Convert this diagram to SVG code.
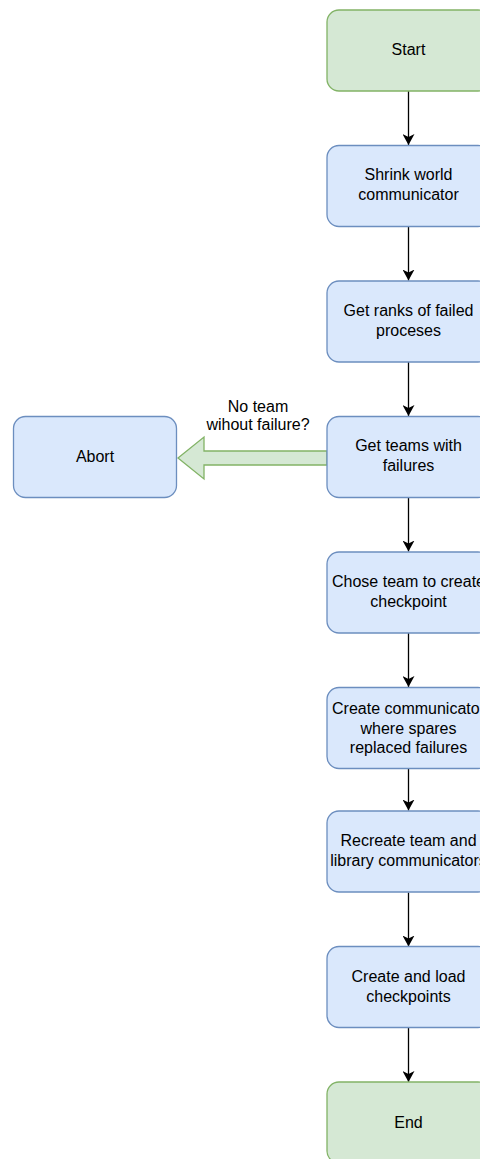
<svg xmlns="http://www.w3.org/2000/svg" width="480" height="1159" viewBox="0 0 480 1159">
<style>
.n rect{stroke-width:1.3}
.g rect{fill:#d5e8d4;stroke:#82b366}
.b rect{fill:#dae8fc;stroke:#6c8ebf}
text{font-family:"Liberation Sans",Arial,sans-serif;font-size:16px;fill:#000;text-anchor:middle}
.e{stroke:#000;stroke-width:1.3;fill:none}
</style>
<defs>
<marker id="ah" markerWidth="12" markerHeight="12" viewBox="0 0 12 12" refX="11" refY="6" orient="auto" markerUnits="userSpaceOnUse">
<path d="M0,0 L11,6 L0,12 L3,6 Z" fill="#000"/>
</marker>
</defs>
<g id="edges">
<line class="e" x1="408.5" y1="91" x2="408.5" y2="145" marker-end="url(#ah)"/>
<line class="e" x1="408.5" y1="226.5" x2="408.5" y2="280.5" marker-end="url(#ah)"/>
<line class="e" x1="408.5" y1="362" x2="408.5" y2="416" marker-end="url(#ah)"/>
<line class="e" x1="408.5" y1="497.5" x2="408.5" y2="551.5" marker-end="url(#ah)"/>
<line class="e" x1="408.5" y1="633" x2="408.5" y2="687" marker-end="url(#ah)"/>
<line class="e" x1="408.5" y1="768.5" x2="408.5" y2="810.5" marker-end="url(#ah)"/>
<line class="e" x1="408.5" y1="892.5" x2="408.5" y2="946.5" marker-end="url(#ah)"/>
<line class="e" x1="408.5" y1="1028" x2="408.5" y2="1082" marker-end="url(#ah)"/>
<g id="abort-arrow">
<path d="M327,451 L204,451 L204,437 L178,458 L204,479 L204,465 L327,465 Z" fill="#d5e8d4" stroke="#82b366" stroke-width="1.3"/>
<text x="258" y="411.5">No team</text>
<text x="258" y="429.5">wihout failure?</text>
</g>
</g>
<g id="start" class="n g"><rect x="327" y="10" width="163" height="81" rx="12"/><text x="408.5" y="54.5">Start</text></g>
<g id="shrink" class="n b"><rect x="327" y="145.5" width="163" height="81" rx="12"/><text x="408.5" y="180">Shrink world</text><text x="408.5" y="200">communicator</text></g>
<g id="ranks" class="n b"><rect x="327" y="281" width="163" height="81" rx="12"/><text x="408.5" y="316">Get ranks of failed</text><text x="408.5" y="336">proceses</text></g>
<g id="teams" class="n b"><rect x="327" y="416.5" width="163" height="81" rx="12"/><text x="408.5" y="451">Get teams with</text><text x="408.5" y="471">failures</text></g>
<g id="abort" class="n b"><rect x="13.5" y="416.5" width="163" height="81" rx="12"/><text x="95" y="462">Abort</text></g>
<g id="chose" class="n b"><rect x="327" y="552" width="163" height="81" rx="12"/><text x="408.5" y="587">Chose team to create</text><text x="408.5" y="607">checkpoint</text></g>
<g id="createcomm" class="n b"><rect x="327" y="687.5" width="163" height="81" rx="12"/><text x="408.5" y="714">Create communicator</text><text x="408.5" y="733.5">where spares</text><text x="408.5" y="753">replaced failures</text></g>
<g id="recreate" class="n b"><rect x="327" y="811" width="163" height="81" rx="12"/><text x="408.5" y="846">Recreate team and</text><text x="408.5" y="866">library communicators</text></g>
<g id="load" class="n b"><rect x="327" y="946.5" width="163" height="81" rx="12"/><text x="408.5" y="981.5">Create and load</text><text x="408.5" y="1001.5">checkpoints</text></g>
<g id="end" class="n g"><rect x="327" y="1082" width="163" height="81" rx="12"/><text x="408.5" y="1127.5">End</text></g>
</svg>
